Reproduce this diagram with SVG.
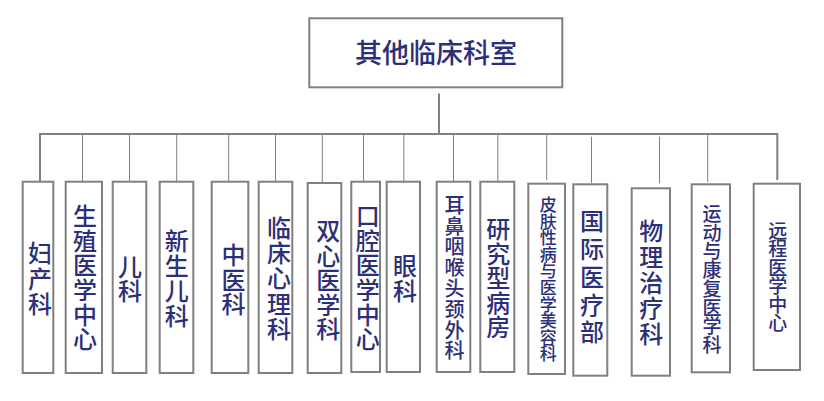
<svg xmlns="http://www.w3.org/2000/svg" width="824" height="401" viewBox="0 0 824 401">
<style>
.box{fill:#fff;stroke:#808080;stroke-width:2}
.ln{stroke:#808080;stroke-width:1;fill:none}
.lnt{stroke:#808080;stroke-width:2;fill:none}
text{font-family:"Noto Sans CJK SC","Noto Sans CJK JP",sans-serif;fill:#2d2f78;text-anchor:middle;font-weight:500}
</style>
<rect width="824" height="401" fill="#fff"/>
<g id="connectors">
<path class="lnt" d="M439,93.5V134M40,181V134H777.3V180"/>
<path class="ln" d="M82.5,134V181M129.5,134V181M176.7,134V181M228.7,134V181M275.5,134V181M322.3,134V182M363.5,134V181M403.8,134V181M453.5,134V181M497.8,134V181M546.7,134V180M591.5,136.7V183M659.5,136.7V183.3M707.7,134V182"/>
</g>
<g id="root"><rect class="box" x="309.3" y="18.3" width="253" height="69"/><text x="436" y="62.5" font-size="27">其他临床科室</text></g>
<g id="n1"><rect class="box" x="22.7" y="181.7" width="30.6" height="191.3"/><text font-size="24"><tspan x="40" y="261.8">妇</tspan><tspan x="40" y="287.5">产</tspan><tspan x="40" y="313.1">科</tspan></text></g>
<g id="n2"><rect class="box" x="65.7" y="181.7" width="36.3" height="191.3"/><text font-size="24"><tspan x="85" y="225.1">生</tspan><tspan x="85" y="249.7">殖</tspan><tspan x="85" y="274.3">医</tspan><tspan x="85" y="298.9">学</tspan><tspan x="85" y="323.5">中</tspan><tspan x="85" y="348.1">心</tspan></text></g>
<g id="n3"><rect class="box" x="112.7" y="181.7" width="33.6" height="191.3"/><text font-size="24"><tspan x="130" y="276.1">儿</tspan><tspan x="130" y="299.8">科</tspan></text></g>
<g id="n4"><rect class="box" x="159.7" y="181.7" width="33.6" height="191.3"/><text font-size="24"><tspan x="176.7" y="250.1">新</tspan><tspan x="176.7" y="275">生</tspan><tspan x="176.7" y="299.9">儿</tspan><tspan x="176.7" y="324.8">科</tspan></text></g>
<g id="n5"><rect class="box" x="211.7" y="181.7" width="36.6" height="191.3"/><text font-size="24"><tspan x="233.5" y="264.1">中</tspan><tspan x="233.5" y="288.6">医</tspan><tspan x="233.5" y="313.1">科</tspan></text></g>
<g id="n6"><rect class="box" x="258.7" y="181.7" width="33.6" height="191.3"/><text font-size="24"><tspan x="279" y="236.8">临</tspan><tspan x="279" y="262.1">床</tspan><tspan x="279" y="287.4">心</tspan><tspan x="279" y="312.7">理</tspan><tspan x="279" y="338">科</tspan></text></g>
<g id="n7"><rect class="box" x="307.7" y="183" width="33.6" height="190"/><text font-size="24"><tspan x="328.3" y="240.1">双</tspan><tspan x="328.3" y="264.6">心</tspan><tspan x="328.3" y="289.1">医</tspan><tspan x="328.3" y="313.6">学</tspan><tspan x="328.3" y="338.1">科</tspan></text></g>
<g id="n8"><rect class="box" x="351.3" y="181.7" width="28.7" height="190.3"/><text font-size="24"><tspan x="367.7" y="225.1">口</tspan><tspan x="367.7" y="249.7">腔</tspan><tspan x="367.7" y="274.3">医</tspan><tspan x="367.7" y="298.9">学</tspan><tspan x="367.7" y="323.5">中</tspan><tspan x="367.7" y="348.1">心</tspan></text></g>
<g id="n9"><rect class="box" x="386.7" y="181.7" width="33.3" height="190.3"/><text font-size="24"><tspan x="405" y="275.1">眼</tspan><tspan x="405" y="299.8">科</tspan></text></g>
<g id="n10"><rect class="box" x="436.7" y="181.7" width="33.6" height="190.3"/><text font-size="20"><tspan x="454.5" y="212.8">耳</tspan><tspan x="454.5" y="233.6">鼻</tspan><tspan x="454.5" y="254.4">咽</tspan><tspan x="454.5" y="275.2">喉</tspan><tspan x="454.5" y="296">头</tspan><tspan x="454.5" y="316.8">颈</tspan><tspan x="454.5" y="337.6">外</tspan><tspan x="454.5" y="358.4">科</tspan></text></g>
<g id="n11"><rect class="box" x="480.3" y="181.7" width="34" height="190.3"/><text font-size="24"><tspan x="498.3" y="238.4">研</tspan><tspan x="498.3" y="262.9">究</tspan><tspan x="498.3" y="287.4">型</tspan><tspan x="498.3" y="311.9">病</tspan><tspan x="498.3" y="336.4">房</tspan></text></g>
<g id="n12"><rect class="box" x="528.3" y="183.7" width="36.7" height="190.3"/><text font-size="17"><tspan x="548.3" y="211">皮</tspan><tspan x="548.3" y="227.6">肤</tspan><tspan x="548.3" y="244.2">性</tspan><tspan x="548.3" y="260.8">病</tspan><tspan x="548.3" y="277.4">与</tspan><tspan x="548.3" y="294">医</tspan><tspan x="548.3" y="310.6">学</tspan><tspan x="548.3" y="327.2">美</tspan><tspan x="548.3" y="343.8">容</tspan><tspan x="548.3" y="360.4">科</tspan></text></g>
<g id="n13"><rect class="box" x="573.3" y="184.3" width="34" height="191.4"/><text font-size="24"><tspan x="592" y="230.1">国</tspan><tspan x="592" y="257.9">际</tspan><tspan x="592" y="285.7">医</tspan><tspan x="592" y="313.5">疗</tspan><tspan x="592" y="341.3">部</tspan></text></g>
<g id="n14"><rect class="box" x="631.7" y="188.3" width="38.3" height="187.4"/><text font-size="24"><tspan x="651.3" y="240.1">物</tspan><tspan x="651.3" y="265.8">理</tspan><tspan x="651.3" y="291.6">治</tspan><tspan x="651.3" y="317.3">疗</tspan><tspan x="651.3" y="343.1">科</tspan></text></g>
<g id="n15"><rect class="box" x="691.7" y="184.3" width="38.3" height="188"/><text font-size="19"><tspan x="712" y="221">运</tspan><tspan x="712" y="239.7">动</tspan><tspan x="712" y="258.4">与</tspan><tspan x="712" y="277.1">康</tspan><tspan x="712" y="295.8">复</tspan><tspan x="712" y="314.5">医</tspan><tspan x="712" y="333.2">学</tspan><tspan x="712" y="351.9">科</tspan></text></g>
<g id="n16"><rect class="box" x="753.7" y="183.7" width="46.3" height="186.3"/><text font-size="19"><tspan x="777.8" y="237.7">远</tspan><tspan x="777.8" y="256.2">程</tspan><tspan x="777.8" y="274.7">医</tspan><tspan x="777.8" y="293.2">学</tspan><tspan x="777.8" y="311.7">中</tspan><tspan x="777.8" y="330.2">心</tspan></text></g>
</svg>
